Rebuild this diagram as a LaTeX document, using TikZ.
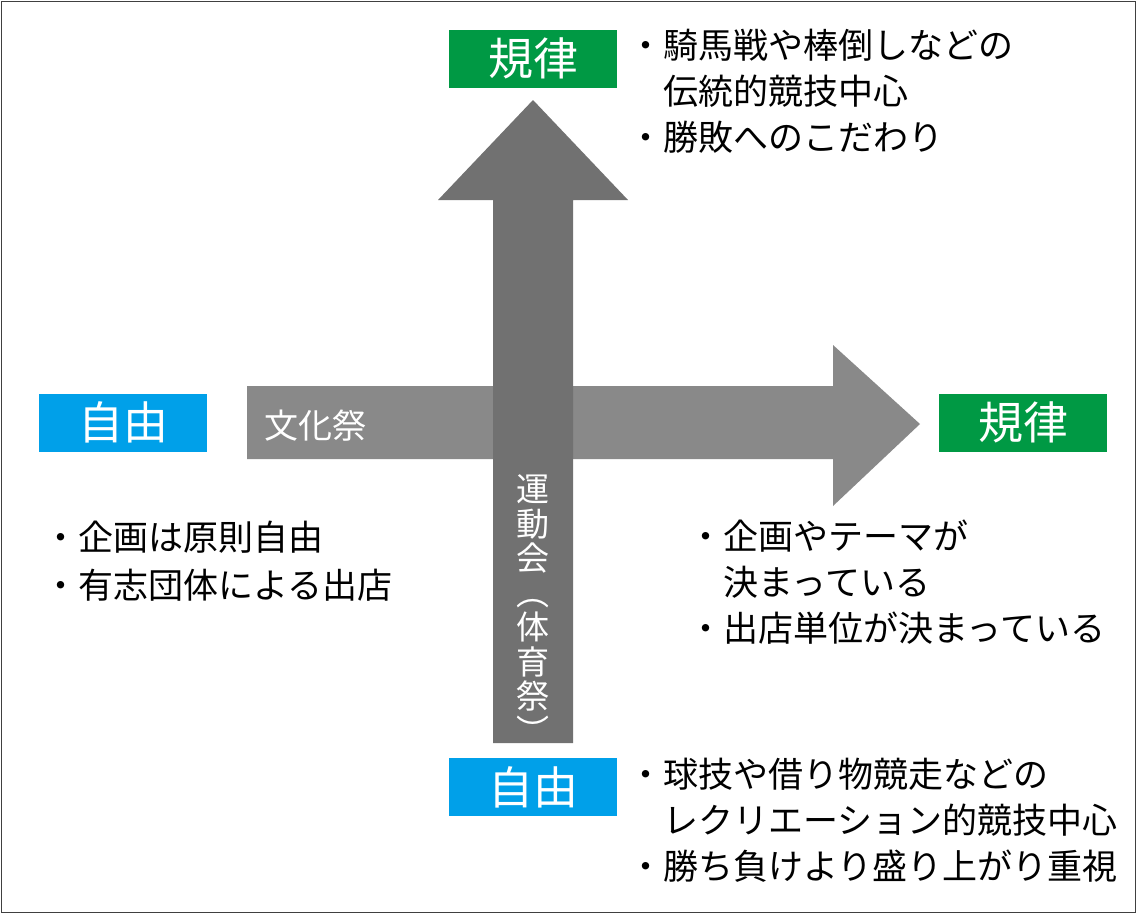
\documentclass[tikz,border=0pt]{standalone}
\usepackage{fontspec}
\setmainfont{Noto Sans CJK JP}
\definecolor{kiritsu}{HTML}{009944}
\definecolor{jiyu}{HTML}{00A0E9}
\definecolor{bunkasai}{HTML}{898989}
\definecolor{undokai}{HTML}{717171}
\tikzset{
	labelbox/.style={minimum width=168, minimum height=58, inner sep=0, text=white, font=\fontsize{45}{45}\selectfont},
	notes/.style={anchor=west, inner sep=0, align=left, font=\fontsize{35}{46}\selectfont},
}
\begin{document}
\begin{tikzpicture}[x=1pt,y=-1pt]
	\useasboundingbox (0,0) rectangle (1140,914);
	%frame
	\draw[line width=1.5pt,black!75] (1.5,1.5) rectangle (1135.5,912.5);
	%arrows
	\fill[bunkasai] (247,386) -- (833,386) -- (833,345) -- (920,424) -- (833,506) -- (833,459) -- (247,459) -- cycle;
	\fill[undokai] (493,743) -- (493,200) -- (438,200) -- (533,100) -- (628,200) -- (573,200) -- (573,743) -- cycle;
	\node[text=white,anchor=west,inner sep=0,font=\fontsize{34}{34}\selectfont] (bunka) at (264,426) {文化祭};
	\node[text=white,align=center,inner sep=0,font=\fontsize{33}{34.5}\selectfont] (undo) at (533,609) {運\\動\\会\\︵\\体\\育\\祭\\︶};
	%boxes
	\node[labelbox,fill=kiritsu] (topkiritsu) at (533,58.5) {規律};
	\node[labelbox,fill=kiritsu] (rightkiritsu) at (1023,422.5) {規律};
	\node[labelbox,fill=jiyu] (bottomjiyu) at (533,787) {自由};
	\node[labelbox,fill=jiyu] (leftjiyu) at (123,422.5) {自由};
	%notes
	\node[notes] (topnotes) at (628,91) {・騎馬戦や棒倒しなどの\\　伝統的競技中心\\・勝敗へのこだわり};
	\node[notes,font=\fontsize{35}{48}\selectfont] (leftnotes) at (43,561) {・企画は原則自由\\・有志団体による出店};
	\node[notes] (rightnotes) at (688,582) {・企画やテーマが\\　決まっている\\・出店単位が決まっている};
	\node[notes] (bottomnotes) at (628,820) {・球技や借り物競走などの\\　レクリエーション的競技中心\\・勝ち負けより盛り上がり重視};
\end{tikzpicture}
\end{document}
